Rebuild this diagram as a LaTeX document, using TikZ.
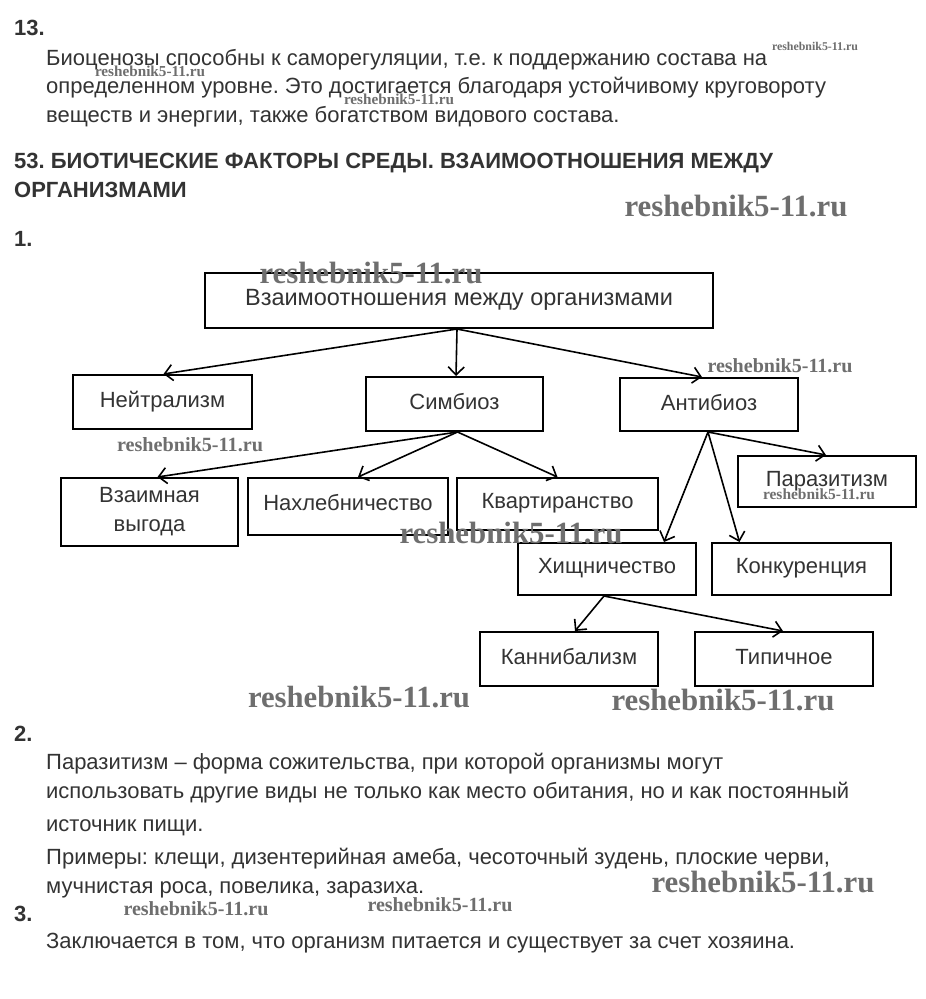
\documentclass[tikz,border=0pt]{standalone}
\usepackage{fontspec}
\usepackage{graphicx}
\setmainfont{Liberation Sans}
\newfontfamily\wmfont{Liberation Serif}
\usetikzlibrary{arrows.meta}
\frenchspacing
\definecolor{txt}{HTML}{333333}
\definecolor{wmc}{HTML}{6E6E6E}
\newcommand{\wmtext}[1]{\resizebox{#1pt}{!}{\wmfont\bfseries reshebnik5-11.ru}}
\tikzset{
  body/.style={anchor=base west, inner sep=0pt, text=txt, font=\fontsize{22}{26}\selectfont},
  num/.style={anchor=base west, inner sep=0pt, text=txt, font=\fontsize{22}{26}\selectfont\bfseries},
  wm/.style={inner sep=0pt, text=wmc},
  box/.style={draw=black, line width=2pt, inner sep=0pt, text=txt,
    font=\fontsize{22}{29}\selectfont, align=center},
  arr/.style={draw=black, line width=1.6pt, -{Straight Barb[length=8pt,width=16pt]}}
}
\begin{document}
\begin{tikzpicture}[x=1pt,y=-1pt]
\useasboundingbox (0,0) rectangle (926,999);
\fill[white] (0,0) rectangle (926,999);
% text block 13
\node[num] (n13) at (14,35) {13.};
\node[body] (t1) at (46,65) {Биоценозы способны к саморегуляции, т.е. к поддержанию состава на};
\node[body] (t2) at (46,93) {определенном уровне. Это достигается благодаря устойчивому круговороту};
\node[body] (t3) at (46,122) {веществ и энергии, также богатством видового состава.};
\node[num] (h1) at (14,168) {53. БИОТИЧЕСКИЕ ФАКТОРЫ СРЕДЫ. ВЗАИМООТНОШЕНИЯ МЕЖДУ};
\node[num] (h2) at (14,197) {ОРГАНИЗМАМИ};
\node[num] (n1) at (14,246) {1.};
% diagram boxes
\node[box, minimum width=508pt, minimum height=55pt] (top) at (459,300.5) {\raisebox{6pt}{\fontsize{23.5}{29}\selectfont Взаимоотношения между организмами}};
\node[box, minimum width=179pt, minimum height=54pt] (neut) at (162.5,402) {\raisebox{6pt}{Нейтрализм}};
\node[box, minimum width=177pt, minimum height=54pt] (simb) at (454.5,404) {\raisebox{6pt}{Симбиоз}};
\node[box, minimum width=178pt, minimum height=53pt] (anti) at (709,404.5) {\raisebox{4pt}{Антибиоз}};
\node[box, minimum width=177pt, minimum height=68pt] (vzaim) at (149.5,512) {Взаимная\\выгода};
\node[box, minimum width=200pt, minimum height=57pt] (nakh) at (348,506.5) {\raisebox{9pt}{Нахлебничество}};
\node[box, minimum width=201pt, minimum height=52pt] (kvart) at (557.5,504) {\raisebox{7pt}{Квартиранство}};
\node[box, minimum width=178pt, minimum height=51pt] (paraz) at (827,481.5) {\raisebox{6pt}{Паразитизм}};
\node[box, minimum width=178pt, minimum height=52pt] (khish) at (607,569) {\raisebox{7pt}{Хищничество}};
\node[box, minimum width=179pt, minimum height=52pt] (konk) at (801.5,569) {\raisebox{7pt}{Конкуренция}};
\node[box, minimum width=178pt, minimum height=54pt] (kann) at (569,659) {\raisebox{5pt}{Каннибализм}};
\node[box, minimum width=178pt, minimum height=54pt] (tip) at (784,659) {\raisebox{5pt}{Типичное}};
% anchor coordinates
\coordinate (topS) at ([xshift=-2pt]top.south);
\coordinate (simbS) at ([xshift=3pt]simb.south);
\coordinate (antiS) at ([xshift=-1pt]anti.south);
\coordinate (khishS) at ([xshift=-3pt]khish.south);
\draw[arr] (topS) -- ([xshift=1pt]neut.north);
\draw[arr] (topS) -- ([xshift=1.5pt]simb.north);
\draw[arr] (topS) -- ([xshift=-7pt]anti.north);
\draw[arr] (simbS) -- ([xshift=8pt]vzaim.north);
\draw[arr] (simbS) -- ([xshift=10pt]nakh.north);
\draw[arr] (simbS) -- ([xshift=0pt]kvart.north);
\draw[arr] (antiS) -- ([xshift=-1pt]paraz.north);
\draw[arr] (antiS) -- ([xshift=57pt]khish.north);
\draw[arr] (antiS) -- ([xshift=-62pt]konk.north);
\draw[arr] (khishS) -- ([xshift=6pt]kann.north);
\draw[arr] (khishS) -- ([xshift=-1pt]tip.north);
% text block 2 and 3
\node[num] (n2) at (14,741) {2.};
\node[body] (p1) at (46,769) {Паразитизм – форма сожительства, при которой организмы могут};
\node[body] (p2) at (46,798) {использовать другие виды не только как место обитания, но и как постоянный};
\node[body] (p3) at (46,831) {источник пищи.};
\node[body] (p4) at (46,864) {Примеры: клещи, дизентерийная амеба, чесоточный зудень, плоские черви,};
\node[body] (p5) at (46,893) {мучнистая роса, повелика, заразиха.};
\node[num] (n3) at (14,921) {3.};
\node[body] (p6) at (46,948) {Заключается в том, что организм питается и существует за счет хозяина.};
% watermarks
\node[wm] (w1) at (815,46) {\wmtext{86}};
\node[wm] (w2) at (150,71) {\wmtext{110}};
\node[wm] (w3) at (399,99) {\wmtext{110}};
\node[wm] (w4) at (736,206) {\wmtext{223}};
\node[wm] (w5) at (371,273) {\wmtext{223}};
\node[wm] (w6) at (780,366) {\wmtext{145}};
\node[wm] (w7) at (190,445) {\wmtext{146}};
\node[wm] (w8) at (819,494) {\wmtext{112}};
\node[wm] (w9) at (511,533) {\wmtext{223}};
\node[wm] (w10) at (359,697) {\wmtext{222}};
\node[wm] (w11) at (723,700) {\wmtext{223}};
\node[wm] (w12) at (763,882) {\wmtext{223}};
\node[wm] (w13) at (196,909) {\wmtext{145}};
\node[wm] (w14) at (440,905) {\wmtext{145}};
\end{tikzpicture}
\end{document}
